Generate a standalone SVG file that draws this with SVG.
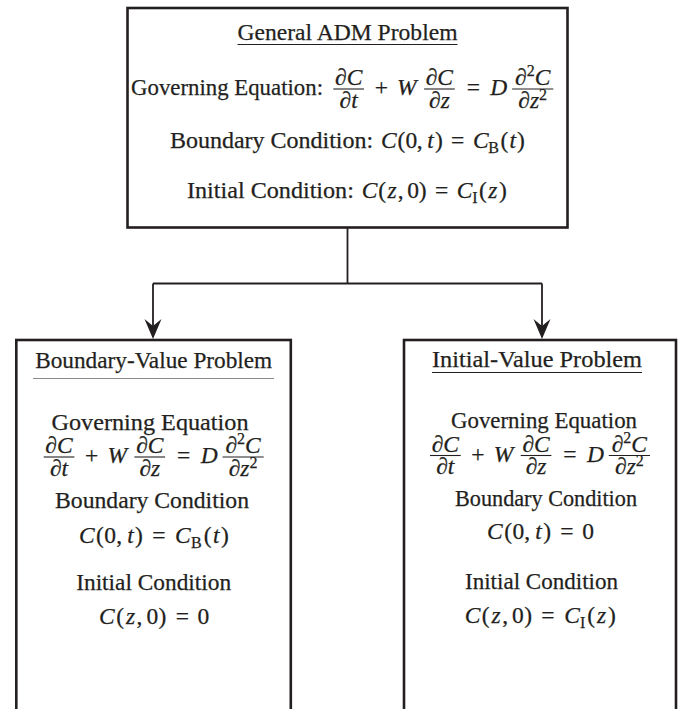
<svg xmlns="http://www.w3.org/2000/svg" width="683" height="709" viewBox="0 0 683 709">
<style>
text{font-family:"Liberation Serif","Times New Roman",serif;font-size:23.5px;fill:#231f20;stroke:#231f20;stroke-width:0.25}
.c{text-anchor:middle}
.i{font-style:italic}
.s{font-size:16px;font-style:normal}
.box{fill:#fff;stroke:#231f20;stroke-width:2.6}
.bar{stroke:#231f20;stroke-width:1.1}
.ul{stroke:#231f20;stroke-width:1.1}
.hr{stroke:#8a8a8a;stroke-width:1}
.con{fill:none;stroke:#231f20;stroke-width:1.8}
</style>
<defs>
<marker id="ah" viewBox="-21 -9 22 18" refX="-3" refY="0" markerWidth="22" markerHeight="18" markerUnits="userSpaceOnUse" orient="auto">
<path d="M0,0 L-20,-8.5 L-13,0 L-20,8.5 Z" fill="#231f20"/>
</marker>
</defs>

<g id="connectors">
<path class="con" d="M347.5,228 V283.5 M153,283.5 H542"/>
<path class="con" d="M153,283.5 V336" marker-end="url(#ah)"/>
<path class="con" d="M542,283.5 V336" marker-end="url(#ah)"/>
</g>

<g id="general">
<rect class="box" x="127.5" y="8" width="440" height="219.5"/>
<text class="c" x="347.5" y="40" textLength="220" lengthAdjust="spacingAndGlyphs">General ADM Problem</text>
<line class="ul" x1="237.5" y1="44.5" x2="457.5" y2="44.5"/>
<text x="131" y="95" textLength="192" lengthAdjust="spacingAndGlyphs">Governing Equation:</text>
<text class="c i" x="348.7" y="85">∂C</text>
<line class="bar" x1="333.3" y1="89" x2="364" y2="89"/>
<text class="c i" x="348.7" y="107.5">∂t</text>
<text class="c" x="381.3" y="95">+</text>
<text class="c i" x="406.8" y="95">W</text>
<text class="c i" x="439.4" y="85">∂C</text>
<line class="bar" x1="424.1" y1="89" x2="454.8" y2="89"/>
<text class="c i" x="439.4" y="107.5">∂z</text>
<text class="c" x="473.3" y="95">=</text>
<text class="c i" x="498.8" y="95">D</text>
<text class="c i" x="532.7" y="85">∂<tspan class="s" dy="-9">2</tspan><tspan dy="9">C</tspan></text>
<line class="bar" x1="512.1" y1="89" x2="553.3" y2="89"/>
<text class="c i" x="532.7" y="107.5">∂z<tspan class="s" dy="-8">2</tspan></text>

<text x="169.9" y="148" textLength="203.3" lengthAdjust="spacingAndGlyphs">Boundary Condition:</text>
<text class="c"><tspan class="i" x="388.9" y="148">C</tspan><tspan x="401.5" y="148">(</tspan><tspan x="411.3" y="148">0</tspan><tspan x="419.8" y="148">,</tspan><tspan class="i" x="430.5" y="148">t</tspan><tspan x="438.8" y="148">)</tspan><tspan x="457.7" y="148">=</tspan><tspan class="i" x="480.8" y="148">C</tspan><tspan class="s" x="493.6" y="152.5">B</tspan><tspan x="504.4" y="148">(</tspan><tspan class="i" x="512.7" y="148">t</tspan><tspan x="520.9" y="148">)</tspan></text>

<text x="187" y="198" textLength="166.9" lengthAdjust="spacingAndGlyphs">Initial Condition:</text>
<text class="c"><tspan class="i" x="369.6" y="198">C</tspan><tspan x="382.2" y="198">(</tspan><tspan class="i" x="392.1" y="198">z</tspan><tspan x="400.7" y="198">,</tspan><tspan x="413" y="198">0</tspan><tspan x="422.7" y="198">)</tspan><tspan x="441.7" y="198">=</tspan><tspan class="i" x="464.7" y="198">C</tspan><tspan class="s" x="474.9" y="202.5">I</tspan><tspan x="483" y="198">(</tspan><tspan class="i" x="492.9" y="198">z</tspan><tspan x="502.8" y="198">)</tspan></text>
</g>

<g id="bvp">
<rect class="box" x="16.3" y="340" width="274.5" height="420"/>
<text class="c" x="153.7" y="368" textLength="237" lengthAdjust="spacingAndGlyphs">Boundary-Value Problem</text>
<line class="hr" x1="33" y1="378.5" x2="274" y2="378.5"/>
<text class="c" x="150" y="430" textLength="197" lengthAdjust="spacingAndGlyphs">Governing Equation</text>
<text class="c i" x="59" y="453">∂C</text>
<line class="bar" x1="43.7" y1="457" x2="74.4" y2="457"/>
<text class="c i" x="59" y="475.5">∂t</text>
<text class="c" x="91.6" y="463">+</text>
<text class="c i" x="117.2" y="463">W</text>
<text class="c i" x="149.8" y="453">∂C</text>
<line class="bar" x1="134.4" y1="457" x2="165.1" y2="457"/>
<text class="c i" x="149.8" y="475.5">∂z</text>
<text class="c" x="183.7" y="463">=</text>
<text class="c i" x="209.2" y="463">D</text>
<text class="c i" x="243.1" y="453">∂<tspan class="s" dy="-9">2</tspan><tspan dy="9">C</tspan></text>
<line class="bar" x1="222.5" y1="457" x2="263.7" y2="457"/>
<text class="c i" x="243.1" y="475.5">∂z<tspan class="s" dy="-8">2</tspan></text>
<text class="c" x="152" y="508" textLength="194" lengthAdjust="spacingAndGlyphs">Boundary Condition</text>
<text class="c"><tspan class="i" x="86.8" y="543">C</tspan><tspan x="100" y="543">(</tspan><tspan x="110.2" y="543">0</tspan><tspan x="119.2" y="543">,</tspan><tspan class="i" x="130.4" y="543">t</tspan><tspan x="139" y="543">)</tspan><tspan x="158.8" y="543">=</tspan><tspan class="i" x="182.9" y="543">C</tspan><tspan class="s" x="196.3" y="547.5">B</tspan><tspan x="207.6" y="543">(</tspan><tspan class="i" x="216.2" y="543">t</tspan><tspan x="224.9" y="543">)</tspan></text>
<text class="c" x="153.7" y="590" textLength="155" lengthAdjust="spacingAndGlyphs">Initial Condition</text>
<text class="c"><tspan class="i" x="106.9" y="624">C</tspan><tspan x="120.2" y="624">(</tspan><tspan class="i" x="130.5" y="624">z</tspan><tspan x="139.5" y="624">,</tspan><tspan x="152.3" y="624">0</tspan><tspan x="162.5" y="624">)</tspan><tspan x="182.4" y="624">=</tspan><tspan x="203.4" y="624">0</tspan></text>
</g>

<g id="ivp">
<rect class="box" x="404" y="340" width="272" height="420"/>
<text class="c" x="537" y="367" textLength="210" lengthAdjust="spacingAndGlyphs">Initial-Value Problem</text>
<line class="ul" x1="432" y1="372.5" x2="642" y2="372.5"/>
<text class="c" x="544" y="428" textLength="186" lengthAdjust="spacingAndGlyphs">Governing Equation</text>
<text class="c i" x="445.3" y="451.5">∂C</text>
<line class="bar" x1="430" y1="455.5" x2="460.7" y2="455.5"/>
<text class="c i" x="445.3" y="474">∂t</text>
<text class="c" x="477.9" y="461.5">+</text>
<text class="c i" x="503.5" y="461.5">W</text>
<text class="c i" x="536.1" y="451.5">∂C</text>
<line class="bar" x1="520.7" y1="455.5" x2="551.4" y2="455.5"/>
<text class="c i" x="536.1" y="474">∂z</text>
<text class="c" x="570" y="461.5">=</text>
<text class="c i" x="595.5" y="461.5">D</text>
<text class="c i" x="629.4" y="451.5">∂<tspan class="s" dy="-9">2</tspan><tspan dy="9">C</tspan></text>
<line class="bar" x1="608.8" y1="455.5" x2="650" y2="455.5"/>
<text class="c i" x="629.4" y="474">∂z<tspan class="s" dy="-8">2</tspan></text>
<text class="c" x="546" y="506" textLength="182" lengthAdjust="spacingAndGlyphs">Boundary Condition</text>
<text class="c"><tspan class="i" x="494.9" y="539">C</tspan><tspan x="508.2" y="539">(</tspan><tspan x="518.4" y="539">0</tspan><tspan x="527.3" y="539">,</tspan><tspan class="i" x="538.5" y="539">t</tspan><tspan x="547.1" y="539">)</tspan><tspan x="566.9" y="539">=</tspan><tspan x="588" y="539">0</tspan></text>
<text class="c" x="541.5" y="589" textLength="153" lengthAdjust="spacingAndGlyphs">Initial Condition</text>
<text class="c"><tspan class="i" x="472.5" y="623">C</tspan><tspan x="485.7" y="623">(</tspan><tspan class="i" x="496" y="623">z</tspan><tspan x="505.1" y="623">,</tspan><tspan x="517.9" y="623">0</tspan><tspan x="528.1" y="623">)</tspan><tspan x="547.9" y="623">=</tspan><tspan class="i" x="572" y="623">C</tspan><tspan class="s" x="582.6" y="627.5">I</tspan><tspan x="591.1" y="623">(</tspan><tspan class="i" x="601.5" y="623">z</tspan><tspan x="611.8" y="623">)</tspan></text>
</g>
</svg>
